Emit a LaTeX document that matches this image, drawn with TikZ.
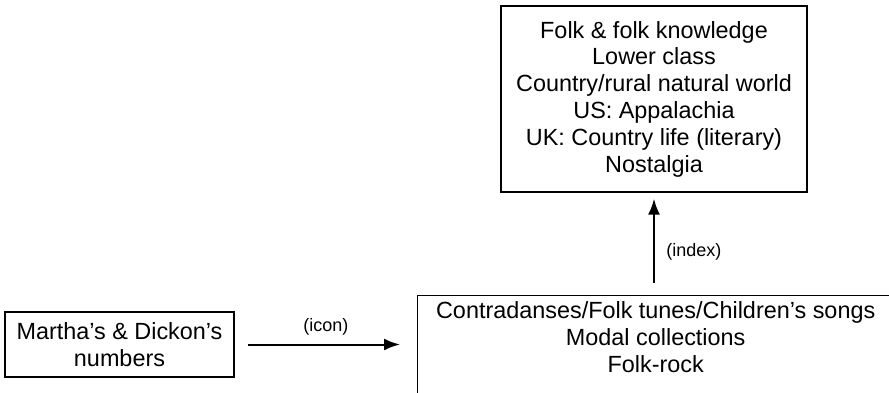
\documentclass[tikz,border=0pt]{standalone}
\usepackage{fontspec}
\setmainfont{Liberation Sans}
\usetikzlibrary{arrows.meta}

\begin{document}
\begin{tikzpicture}[x=1pt, y=1pt, font=\fontsize{23.4}{26.8}\selectfont]
\tikzset{box/.style={draw=black, line width=1.4pt, align=center, inner sep=0pt},
  link/.style={draw=black, line width=2pt, -{Latex[length=16pt, width=12pt]}},
  tag/.style={font=\fontsize{18}{21}\selectfont}}
\useasboundingbox (0, 0) rectangle (889, 392);
\node [box, minimum width=229, minimum height=65] (martha) at (119.5, 47.5) {Martha's \& Dickon's\\numbers};
\node [box, minimum width=306, minimum height=186] (meaning) at (654, 293) {Folk \& folk knowledge\\Lower class\\Country/rural natural world\\US: Appalachia\\UK: Country life (literary)\\Nostalgia};
\node [box, anchor=north west, minimum width=476, inner ysep=6pt, text depth=110pt] (tunes) at (417, 97) {Contradanses/Folk tunes/Children's songs\\Modal collections\\Folk-rock};

\draw [link, shorten <=13pt, shorten >=17pt] (martha.east) -- (martha.east -| tunes.west) node [tag, midway, above=5pt] (icon) {(icon)};
\draw [link, shorten <=12pt, shorten >=6pt] (meaning.south |- tunes.north) -- (meaning.south) node [tag, pos=0.42, right=8pt] (index) {(index)};
\end{tikzpicture}
\end{document}
